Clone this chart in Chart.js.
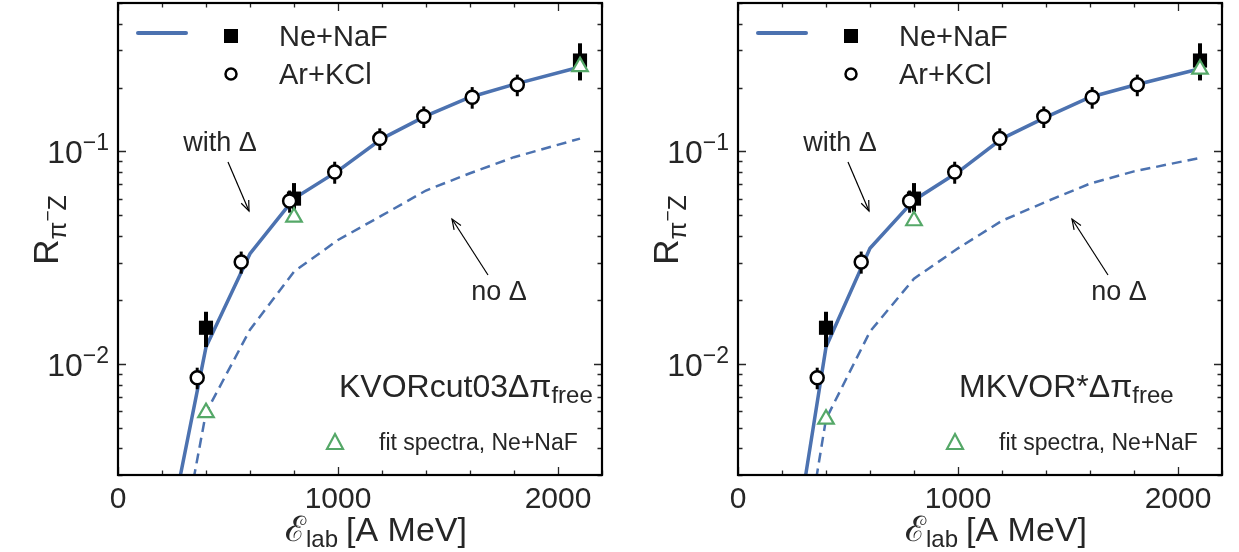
<!DOCTYPE html>
<html><head><meta charset="utf-8">
<script src="https://cdn.jsdelivr.net/npm/chart.js@4"></script>
<style>
html,body{margin:0;padding:0;background:#fff;}
#wrap{position:relative;width:1239px;height:552px;overflow:hidden;}
canvas{position:absolute;top:0;}
</style></head><body>
<div id="wrap">
<canvas id="c1" width="620" height="552" style="left:0"></canvas>
<canvas id="c2" width="619" height="552" style="left:620px"></canvas>
</div>
<script>
// ---------- data ----------
const modelEnergy      = [250, 400, 600, 800, 1000, 1200, 1400, 1600, 1800, 2100];
const kvorWithDelta    = [0.0020, 0.0120, 0.0330, 0.0600, 0.0810, 0.1150, 0.1470, 0.1800, 0.2070, 0.2500];
const kvorNoDelta      = [0.00087, 0.0059, 0.0145, 0.0272, 0.0383, 0.0500, 0.0655, 0.0790, 0.0940, 0.1150];
const mkvorWithDelta   = [0.00126, 0.0120, 0.0350, 0.0590, 0.0800, 0.1150, 0.1450, 0.1800, 0.2050, 0.2450];
const mkvorNoDelta     = [0.00062, 0.0055, 0.0142, 0.0252, 0.0350, 0.0472, 0.0580, 0.0706, 0.0806, 0.0933];

const arKClEnergy = [360, 560, 780, 985, 1190, 1390, 1610, 1815];
const arKClRatio  = [0.0086, 0.0302, 0.0585, 0.0800, 0.1150, 0.1460, 0.1800, 0.2060];
const arKClErr    = [0.0010, 0.0036, 0.0070, 0.0095, 0.0135, 0.0170, 0.0210, 0.0240];

const neNaFEnergy = [400, 800, 2100];
const neNaFRatio  = [0.0148, 0.0600, 0.2680];
const neNaFErrLow = [0.0028, 0.0080, 0.0520];
const neNaFErrHigh= [0.0028, 0.0110, 0.0550];

const fitEnergy   = [400, 800, 2100];
const kvorFit     = [0.0059, 0.0491, 0.2510];
const mkvorFit    = [0.0055, 0.0472, 0.2440];

const xMajorTicks = [0, 1000, 2000];
const xTickLabels = ['0', '1000', '2000'];
const yMajorTicks = [0.01, 0.1];
const yTickExp    = ['\u22122', '\u22121'];

// ---------- style ----------
const FONT = '"Liberation Sans", Arial, sans-serif';
const TXT = '#262626';
const BLUE = '#4c72b0';
const GREEN = '#55a868';

function pts(xs, ys){ return xs.map((x,i)=>({x:x, y:ys[i]})); }

function drawSegs(ctx, x, y, segs, align){
  let total = 0;
  for (const s of segs){ ctx.font = s.size + 'px ' + FONT; s.w = ctx.measureText(s.t).width; total += s.w + (s.gap||0); }
  let cx = align === 'right' ? x - total : align === 'center' ? x - total/2 : x;
  for (const s of segs){ ctx.font = s.size + 'px ' + FONT; ctx.fillText(s.t, cx, y + (s.dy||0)); cx += s.w + (s.gap||0); }
  return total;
}

function arrow(ctx, x1, y1, x2, y2){
  ctx.save();
  ctx.strokeStyle = '#000'; ctx.lineWidth = 1.2;
  ctx.beginPath(); ctx.moveTo(x1,y1); ctx.lineTo(x2,y2); ctx.stroke();
  const a = Math.atan2(y2-y1, x2-x1), L = 11, w = 0.38;
  ctx.beginPath();
  ctx.moveTo(x2 - L*Math.cos(a-w), y2 - L*Math.sin(a-w));
  ctx.lineTo(x2, y2);
  ctx.lineTo(x2 - L*Math.cos(a+w), y2 - L*Math.sin(a+w));
  ctx.stroke();
  ctx.restore();
}

const decorPlugin = {
  id: 'decor',
  beforeDatasetDraw(chart, args){
    const ds = chart.data.datasets[args.index];
    if (!ds.errLow) return;
    const ctx = chart.ctx, xs = chart.scales.x, ys = chart.scales.y;
    ctx.save();
    ctx.strokeStyle = '#000'; ctx.lineWidth = ds.errWidth;
    ds.data.forEach((p,i)=>{
      const px = xs.getPixelForValue(p.x);
      ctx.beginPath();
      ctx.moveTo(px, ys.getPixelForValue(p.y - ds.errLow[i]));
      ctx.lineTo(px, ys.getPixelForValue(p.y + ds.errHigh[i]));
      ctx.stroke();
    });
    ctx.restore();
  },
  afterDraw(chart){
    const ctx = chart.ctx, xs = chart.scales.x, ys = chart.scales.y, a = chart.chartArea;
    const o = chart.options.plugins.decor;
    ctx.save();
    // ticks (inward, all four sides)
    ctx.strokeStyle = '#262626'; ctx.lineWidth = 1.3;
    for (let v = 0; v <= 2200; v += 200){
      const major = v % 1000 === 0, L = major ? 8 : 4.5, px = Math.round(xs.getPixelForValue(v)) + 0.5;
      ctx.beginPath(); ctx.moveTo(px, a.bottom); ctx.lineTo(px, a.bottom - L);
      ctx.moveTo(px, a.top); ctx.lineTo(px, a.top + L); ctx.stroke();
    }
    for (let d = -3; d <= -1; d++){
      for (let m = 1; m <= 9; m++){
        const v = m * Math.pow(10, d);
        if (v < 0.003 - 1e-9 || v > 0.5 + 1e-9) continue;
        const L = m === 1 ? 8 : 4.5, py = Math.round(ys.getPixelForValue(v)) + 0.5;
        ctx.beginPath(); ctx.moveTo(a.left, py); ctx.lineTo(a.left + L, py);
        ctx.moveTo(a.right, py); ctx.lineTo(a.right - L, py); ctx.stroke();
      }
    }
    // frame
    ctx.strokeStyle = '#000'; ctx.lineWidth = 2.2;
    ctx.strokeRect(a.left, a.top, a.right - a.left, a.bottom - a.top);

    ctx.fillStyle = TXT; ctx.textBaseline = 'alphabetic';
    // x tick labels
    xMajorTicks.forEach((v,i)=>{
      drawSegs(ctx, xs.getPixelForValue(v), 508, [{t:xTickLabels[i], size:30}], 'center');
    });
    // y tick labels
    yMajorTicks.forEach((v,i)=>{
      const py = ys.getPixelForValue(v);
      drawSegs(ctx, a.left - 9, py + 12, [{t:'10', size:32}, {t:yTickExp[i], size:23, dy:-13}], 'right');
    });
    // x title
    drawSegs(ctx, a.left + 258, 541, [{t:'\u2130', size:35}, {t:'lab', size:24, dy:6, gap:8}, {t:'[A MeV]', size:34}], 'center');
    // y title (rotated)
    ctx.save();
    ctx.translate(58, 230); ctx.rotate(-Math.PI/2);
    drawSegs(ctx, 0, 0, [{t:'R', size:35}, {t:'\u03c0', size:26, dy:8}, {t:'\u2212', size:19, dy:-4}, {t:'Z', size:25, dy:8}], 'center');
    ctx.restore();

    // legend
    ctx.save();
    ctx.strokeStyle = BLUE; ctx.lineWidth = 4; ctx.lineCap = 'round';
    ctx.beginPath(); ctx.moveTo(138, 33); ctx.lineTo(186, 33); ctx.stroke();
    ctx.restore();
    ctx.fillStyle = '#000'; ctx.fillRect(224, 29, 14, 14);
    ctx.beginPath(); ctx.arc(231, 74, 5.5, 0, Math.PI*2);
    ctx.fillStyle = '#fff'; ctx.fill(); ctx.lineWidth = 2.5; ctx.strokeStyle = '#000'; ctx.stroke();
    ctx.fillStyle = TXT;
    drawSegs(ctx, 279, 46, [{t:'Ne+NaF', size:29}], 'left');
    drawSegs(ctx, 279, 84, [{t:'Ar+KCl', size:29}], 'left');

    // annotations
    drawSegs(ctx, 220, 151, [{t:'with \u0394', size:27}], 'center');
    drawSegs(ctx, 499, 300, [{t:'no \u0394', size:27}], 'center');
    arrow(ctx, 228, 162, 249, 211);
    arrow(ctx, 488, 275, 452, 219);

    // model label
    drawSegs(ctx, 339, 397, [{t:o.model, size:32}, {t:'free', size:24, dy:6}], 'left');

    // fit legend
    ctx.save();
    ctx.strokeStyle = GREEN; ctx.lineWidth = 2.2;
    ctx.beginPath(); ctx.moveTo(335, 434); ctx.lineTo(343, 449); ctx.lineTo(327, 449); ctx.closePath(); ctx.stroke();
    ctx.restore();
    ctx.fillStyle = TXT;
    drawSegs(ctx, 379, 450, [{t:'fit spectra, Ne+NaF', size:23}], 'left');
    ctx.restore();
  }
};

function makeChart(id, withDelta, noDelta, fit, model, padRight){
  return new Chart(document.getElementById(id), {
    type: 'line',
    data: { datasets: [
      { data: pts(modelEnergy, withDelta), borderColor: BLUE, borderWidth: 3.5, pointRadius: 0, tension: 0, order: 9, fill: false },
      { data: pts(modelEnergy, noDelta), borderColor: BLUE, borderWidth: 2.5, borderDash: [10,6], pointRadius: 0, tension: 0, order: 8, fill: false },
      { data: pts(neNaFEnergy, neNaFRatio), errLow: neNaFErrLow, errHigh: neNaFErrHigh, errWidth: 4,
        showLine: false, pointStyle: 'rect', pointRadius: 10, pointBackgroundColor: '#000', pointBorderColor: '#000', pointBorderWidth: 0, order: 5 },
      { data: pts(arKClEnergy, arKClRatio), errLow: arKClErr, errHigh: arKClErr, errWidth: 3,
        showLine: false, pointStyle: 'circle', pointRadius: 6.5, pointBackgroundColor: '#fff', pointBorderColor: '#000', pointBorderWidth: 2.5, order: 4 },
      { data: pts(fitEnergy, fit), showLine: false, pointStyle: 'triangle', pointRadius: 9,
        pointBackgroundColor: '#fff', pointBorderColor: GREEN, pointBorderWidth: 2.2, order: 3 }
    ]},
    options: {
      responsive: false, animation: false, devicePixelRatio: 1,
      layout: { autoPadding: false, padding: { top: 3, right: padRight, left: 0, bottom: 0 } },
      plugins: { legend: { display: false }, tooltip: { enabled: false }, decor: { model: model } },
      scales: {
        x: { type: 'linear', min: 0, max: 2200, bounds: 'data',
             grid: { display: false }, border: { display: false }, ticks: { display: false, stepSize: 200 },
             afterFit: s => { s.height = 77; } },
        y: { type: 'logarithmic', min: 0.003, max: 0.5, bounds: 'data',
             grid: { display: false }, border: { display: false }, ticks: { display: false },
             afterFit: s => { s.width = 118; } }
      }
    },
    plugins: [decorPlugin]
  });
}

makeChart('c1', kvorWithDelta, kvorNoDelta, kvorFit, 'KVORcut03\u0394\u03c0', 18);
makeChart('c2', mkvorWithDelta, mkvorNoDelta, mkvorFit, 'MKVOR*\u0394\u03c0', 17);
</script>
</body></html>
